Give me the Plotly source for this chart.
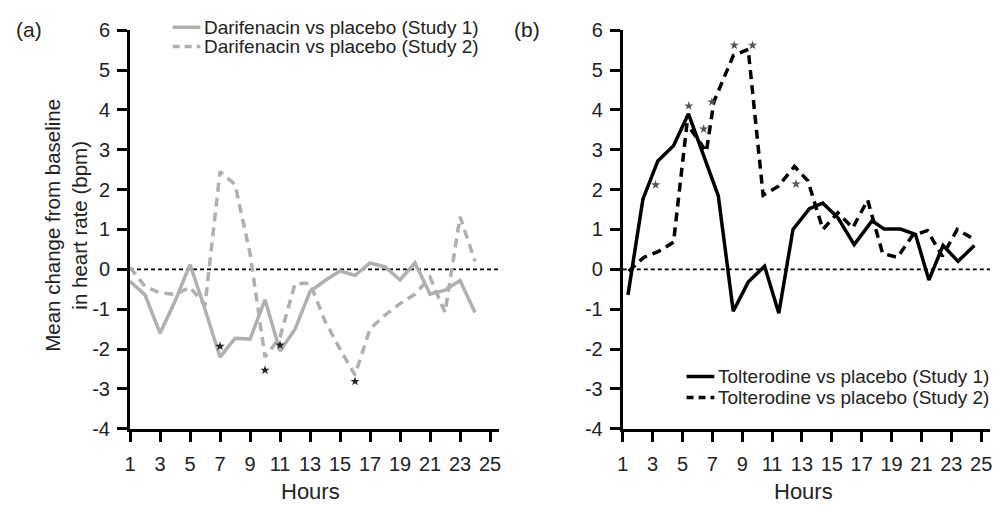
import plotly.graph_objects as go

# ---------------- data ----------------
hours_a = list(range(1, 25))
dar_study1 = [-0.3, -0.64, -1.6, -0.8, 0.12, -1.0, -2.2, -1.73, -1.75, -0.76, -2.05, -1.5,
              -0.56, -0.28, -0.04, -0.15, 0.16, 0.06, -0.26, 0.16, -0.62, -0.52, -0.28, -1.08]
dar_study2 = [0.05, -0.43, -0.59, -0.63, -0.45, -0.9, 2.45, 2.13, 0.4, -2.2, -1.7, -0.36,
              -0.35, -1.3, -2.0, -2.65, -1.49, -1.15, -0.86, -0.62, -0.2, -1.08, 1.32, 0.2]
star_a_x = [7, 10, 11, 16]
star_a_y = [-1.93, -2.53, -1.9, -2.81]

hours_b1 = [1.35, 2.35, 3.35, 4.4, 5.4, 6.5, 7.4, 8.4, 9.4, 10.5, 11.45, 12.4, 13.5, 14.4,
            15.4, 16.5, 17.7, 18.5, 19.6, 20.6, 21.5, 22.45, 23.45, 24.55]
tol_study1 = [-0.64, 1.76, 2.72, 3.1, 3.9, 2.8, 1.84, -1.05, -0.32, 0.08, -1.1, 1.0, 1.52,
              1.66, 1.3, 0.62, 1.22, 1.01, 1.01, 0.88, -0.27, 0.6, 0.2, 0.6]
hours_b2 = [1.4, 2.4, 3.4, 4.4, 5.3, 6.6, 7.1, 8.4, 9.4, 10.4, 11.4, 12.5, 13.4, 14.4,
            15.4, 16.4, 17.4, 18.4, 19.4, 20.4, 21.4, 22.4, 23.4, 24.4]
tol_study2 = [-0.05, 0.3, 0.45, 0.68, 3.65, 2.95, 4.2, 5.36, 5.52, 1.86, 2.08, 2.58, 2.22,
              1.0, 1.42, 1.04, 1.74, 0.4, 0.3, 0.85, 0.97, 0.33, 1.0, 0.78]
star_b_x = [3.2, 5.42, 6.42, 6.97, 8.47, 9.69, 12.61]
star_b_y = [2.12, 4.1, 3.52, 4.2, 5.62, 5.62, 2.14]

x_ticks = [1, 3, 5, 7, 9, 11, 13, 15, 17, 19, 21, 23, 25]
y_ticks = [-4, -3, -2, -1, 0, 1, 2, 3, 4, 5, 6]
y_ticktext = ["-4", "-3", "-2", "-1", "0", "1", "2", "3", "4", "5", "6"]

legend_a = ["Darifenacin vs placebo (Study 1)", "Darifenacin vs placebo (Study 2)"]
legend_b = ["Tolterodine vs placebo (Study 1)", "Tolterodine vs placebo (Study 2)"]

FONT = "Liberation Sans, Arial, sans-serif"
GRAY = "#b0b0b0"
TXT = "#222"
DASH = "9px,6px"
W, H = 1005, 509

fig = go.Figure()

fig.add_trace(go.Scatter(x=hours_a, y=dar_study1, mode="lines", name=legend_a[0],
                         line=dict(color=GRAY, width=3.5), xaxis="x", yaxis="y"))
fig.add_trace(go.Scatter(x=hours_a, y=dar_study2, mode="lines", name=legend_a[1],
                         line=dict(color=GRAY, width=3.5, dash=DASH), xaxis="x", yaxis="y"))
fig.add_trace(go.Scatter(x=star_a_x, y=star_a_y, mode="markers",
                         marker=dict(symbol="star", size=7, color="#222"), xaxis="x", yaxis="y"))

fig.add_trace(go.Scatter(x=hours_b1, y=tol_study1, mode="lines", name=legend_b[0],
                         line=dict(color="black", width=3.5), xaxis="x2", yaxis="y2"))
fig.add_trace(go.Scatter(x=hours_b2, y=tol_study2, mode="lines", name=legend_b[1],
                         line=dict(color="black", width=3.5, dash=DASH), xaxis="x2", yaxis="y2"))
fig.add_trace(go.Scatter(x=star_b_x, y=star_b_y, mode="markers",
                         marker=dict(symbol="star", size=7, color="#555"), xaxis="x2", yaxis="y2"))


def px(xp):
    return xp / W


def py(yp):
    return 1 - yp / H


ydom = [py(436.7), py(20)]
axis_common = dict(showgrid=False, zeroline=False, showline=True, linecolor="black", linewidth=3,
                   ticks="outside", ticklen=10, tickwidth=3, tickcolor="black",
                   tickfont=dict(family=FONT, size=20, color=TXT))
xax = dict(range=[1, 25.6], tickvals=x_ticks, ticklabelstandoff=5, **axis_common)
yax = dict(domain=ydom, range=[-4, 6], tickvals=y_ticks, ticktext=y_ticktext,
           ticklabelstandoff=3, **axis_common)

fig.update_layout(
    width=W, height=H,
    margin=dict(l=0, r=0, t=0, b=0),
    paper_bgcolor="white", plot_bgcolor="white",
    font=dict(family=FONT, color=TXT),
    showlegend=False,
    xaxis=dict(domain=[px(125), px(497)], anchor="y", **xax),
    yaxis=dict(anchor="x", **yax),
    xaxis2=dict(domain=[px(621.7), px(992)], anchor="y2", **xax),
    yaxis2=dict(anchor="x2", **yax),
)

# zero reference lines
for xr, yr in (("x", "y"), ("x2", "y2")):
    fig.add_shape(type="line", xref=xr, yref=yr, x0=1, x1=25.6, y0=0, y1=0,
                  line=dict(color="black", width=1.8, dash="4px,3px"), layer="below")


def add_legend(labels, colors, dashes, x_line, y_rows, size=19):
    for lab, col, dsh, yr in zip(labels, colors, dashes, y_rows):
        fig.add_shape(type="line", xref="paper", yref="paper",
                      x0=px(x_line), x1=px(x_line + 28), y0=py(yr), y1=py(yr),
                      line=dict(color=col, width=3.5, dash=dsh))
        fig.add_annotation(text=lab, x=px(x_line + 30), y=py(yr), xref="paper", yref="paper",
                           xanchor="left", yanchor="middle", showarrow=False,
                           font=dict(family=FONT, size=size, color=TXT))


add_legend(legend_a, [GRAY, GRAY], ["solid", "7px,5px"], 168, [17, 37])
add_legend(legend_b, ["black", "black"], ["solid", "7px,5px"], 686, [382, 404])

ann_font = dict(family=FONT, size=21, color=TXT)
fig.add_annotation(text="(a)", x=px(8), y=py(19), xref="paper", yref="paper",
                   xanchor="left", yanchor="middle", showarrow=False, font=ann_font)
fig.add_annotation(text="(b)", x=px(510), y=py(19), xref="paper", yref="paper",
                   xanchor="left", yanchor="middle", showarrow=False, font=ann_font)
fig.add_annotation(text="Mean change from baseline<br>in heart rate (bpm)", x=px(61), y=py(224),
                   xref="paper", yref="paper", xanchor="center", yanchor="middle", textangle=-90,
                   showarrow=False, font=dict(family=FONT, size=20.5, color=TXT))
fig.add_annotation(text="Hours", x=px(307), y=py(502), xref="paper", yref="paper",
                   xanchor="center", yanchor="middle", showarrow=False,
                   font=dict(family=FONT, size=22, color=TXT))
fig.add_annotation(text="Hours", x=px(804), y=py(502), xref="paper", yref="paper",
                   xanchor="center", yanchor="middle", showarrow=False,
                   font=dict(family=FONT, size=22, color=TXT))

fig.write_html("out.html")
